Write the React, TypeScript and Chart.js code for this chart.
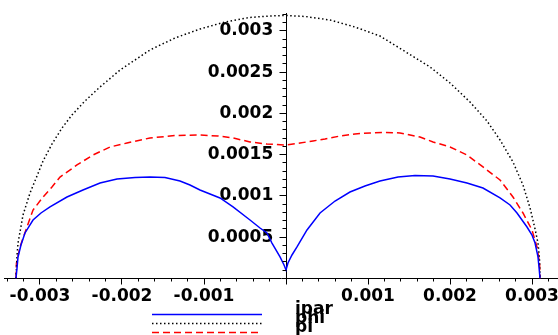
import React, { useEffect, useRef } from 'react';
import { Chart, registerables } from 'chart.js';

Chart.register(...registerables);

// All coordinates below are in units of 0.001 (axis labels show the real values).
const BLUE_X = [-3.293, -3.28, -3.268, -3.232, -3.183, -3.085, -2.988, -2.878, -2.671, -2.476, -2.268, -2.061, -1.841, -1.659, -1.476, -1.293, -1.171, -1.049, -0.805, -0.646, -0.439, -0.317, -0.232, -0.171, -0.073, -0.024, 0, 0.024, 0.073, 0.134, 0.256, 0.415, 0.598, 0.78, 0.963, 1.146, 1.366, 1.573, 1.793, 2.0, 2.207, 2.402, 2.61, 2.732, 2.817, 2.939, 3.0, 3.037, 3.073, 3.085, 3.098];
const BLUE_Y = [0, 0.127, 0.261, 0.406, 0.552, 0.709, 0.794, 0.867, 0.988, 1.073, 1.158, 1.206, 1.224, 1.23, 1.224, 1.182, 1.133, 1.073, 0.976, 0.867, 0.709, 0.612, 0.552, 0.43, 0.261, 0.164, 0.103, 0.188, 0.285, 0.382, 0.588, 0.794, 0.939, 1.048, 1.121, 1.182, 1.23, 1.248, 1.242, 1.206, 1.158, 1.097, 0.976, 0.891, 0.794, 0.624, 0.527, 0.43, 0.261, 0.139, 0];

const RED_X = [-3.293, -3.287, -3.244, -3.159, -3.085, -2.963, -2.854, -2.756, -2.549, -2.354, -2.146, -1.939, -1.659, -1.354, -1.049, -0.829, -0.646, -0.439, -0.232, 0, 0.171, 0.329, 0.476, 0.659, 0.841, 1.024, 1.207, 1.39, 1.634, 1.793, 2.0, 2.207, 2.402, 2.61, 2.768, 2.89, 3.0, 3.061, 3.092, 3.098];
const RED_Y = [0, 0.188, 0.382, 0.624, 0.83, 0.988, 1.109, 1.23, 1.376, 1.497, 1.594, 1.642, 1.703, 1.733, 1.739, 1.727, 1.703, 1.655, 1.63, 1.618, 1.642, 1.667, 1.691, 1.727, 1.752, 1.764, 1.77, 1.764, 1.715, 1.655, 1.594, 1.497, 1.352, 1.194, 0.988, 0.794, 0.588, 0.382, 0.188, 0];

const DOT_X = [-3.293, -3.28, -3.268, -3.207, -3.122, -3.037, -2.963, -2.854, -2.732, -2.61, -2.451, -2.268, -2.024, -1.659, -1.354, -1.049, -0.744, -0.439, -0.195, 0, 0.232, 0.537, 0.841, 1.146, 1.451, 1.756, 2.0, 2.244, 2.451, 2.61, 2.768, 2.89, 2.976, 3.037, 3.073, 3.091, 3.098];
const DOT_Y = [0, 0.285, 0.43, 0.77, 1.036, 1.242, 1.424, 1.63, 1.824, 1.982, 2.152, 2.321, 2.527, 2.77, 2.915, 3.024, 3.109, 3.164, 3.182, 3.188, 3.176, 3.133, 3.048, 2.939, 2.752, 2.564, 2.37, 2.139, 1.909, 1.679, 1.412, 1.133, 0.855, 0.6, 0.43, 0.248, 0];

const X_TICK_VALUES = [-3, -2, -1, 1, 2, 3];
const X_TICK_LABELS = ['-0.003', '-0.002', '-0.001', '0.001', '0.002', '0.003'];
const Y_TICK_VALUES = [0.5, 1, 1.5, 2, 2.5, 3];
const Y_TICK_LABELS = ['0.0005', '0.001', '0.0015', '0.002', '0.0025', '0.003'];
const X_MINOR_STEP = 0.2;
const Y_MINOR_STEP = 0.1;

const LEGEND_LABELS = ['ipar', 'phi', 'pi'];

const FONT = { family: '"DejaVu Sans", sans-serif', size: 17, weight: 'bold' as const };
// gap between the y tick labels and the y axis (Chart.js puts labels of an
// axis positioned at a value flush against it)
const Y_LABEL_GAP = '\u2002\u2005';

const zip = (xs: number[], ys: number[]) => xs.map((x, i) => ({ x, y: ys[i] }));

const axisMarks = {
  id: 'axisMarks',
  afterDraw(chart: any) {
    const { ctx, scales } = chart;
    const xs = scales.x;
    const ys = scales.y;
    const x0 = Math.round(xs.getPixelForValue(0) - 0.5) + 0.5;
    const y0 = Math.round(ys.getPixelForValue(0) - 0.5) + 0.5;
    ctx.save();
    ctx.strokeStyle = '#000';
    ctx.lineWidth = 1;
    ctx.beginPath();
    for (let k = -17; k <= 16; k++) {
      const px = Math.round(xs.getPixelForValue(k * X_MINOR_STEP) - 0.5) + 0.5;
      const len = k % 5 === 0 ? 6 : 3;
      ctx.moveTo(px, y0);
      ctx.lineTo(px, y0 + len);
    }
    for (let k = 1; k <= 32; k++) {
      const py = Math.round(ys.getPixelForValue(k * Y_MINOR_STEP) - 0.5) + 0.5;
      const len = k % 5 === 0 ? 7 : 4;
      ctx.moveTo(x0, py);
      ctx.lineTo(x0 - len, py);
    }
    ctx.stroke();
    ctx.restore();
  },
};

const legendPlugin = {
  id: 'mapleLegend',
  afterDraw(chart: any) {
    const { ctx } = chart;
    const rows = [314, 323, 332];
    ctx.save();
    chart.data.datasets.forEach((ds: any, i: number) => {
      const y = rows[i] + 0.5;
      ctx.beginPath();
      ctx.strokeStyle = ds.borderColor;
      ctx.lineWidth = ds.borderWidth;
      ctx.setLineDash(ds.borderDash || []);
      ctx.moveTo(152, y);
      ctx.lineTo(262, y);
      ctx.stroke();
    });
    ctx.setLineDash([]);
    ctx.fillStyle = '#000';
    ctx.font = `bold 17px "DejaVu Sans", sans-serif`;
    ctx.textBaseline = 'middle';
    ctx.textAlign = 'left';
    LEGEND_LABELS.forEach((t, i) => {
      ctx.fillText(t, 295, rows[i] - 4);
    });
    ctx.restore();
  },
};

export default function App() {
  const ref = useRef<HTMLCanvasElement | null>(null);
  useEffect(() => {
    if (!ref.current) return;
    const chart = new Chart(ref.current, {
      type: 'scatter',
      data: {
        datasets: [
          {
            label: LEGEND_LABELS[0],
            data: zip(BLUE_X, BLUE_Y),
            showLine: true,
            borderColor: '#0000ff',
            borderWidth: 1.5,
            pointRadius: 0,
            tension: 0,
          },
          {
            label: LEGEND_LABELS[1],
            data: zip(DOT_X, DOT_Y),
            showLine: true,
            borderColor: '#000000',
            borderWidth: 1.5,
            borderDash: [1.5, 2.5],
            pointRadius: 0,
            tension: 0,
          },
          {
            label: LEGEND_LABELS[2],
            data: zip(RED_X, RED_Y),
            showLine: true,
            borderColor: '#ff0000',
            borderWidth: 1.5,
            borderDash: [7, 4],
            pointRadius: 0,
            tension: 0,
          },
        ],
      },
      options: {
        animation: false,
        responsive: false,
        layout: { padding: { left: 4, right: 0, top: 13, bottom: 56.5 } },
        plugins: { legend: { display: false }, tooltip: { enabled: false } },
        scales: {
          x: {
            type: 'linear',
            position: { y: 0 },
            min: -3.439,
            max: 3.317,
            grid: { display: false, drawTicks: false },
            border: { display: true, color: '#000', width: 1 },
            afterBuildTicks: (scale: any) => {
              scale.ticks = X_TICK_VALUES.map((v) => ({ value: v }));
            },
            afterFit: (scale: any) => {
              scale.paddingLeft = 0;
              scale.paddingRight = 0;
              scale.paddingTop = 0;
              scale.paddingBottom = 0;
            },
            ticks: {
              autoSkip: false,
              maxRotation: 0,
              padding: 8,
              color: '#000',
              font: FONT,
              callback: (value: any) => {
                const i = X_TICK_VALUES.indexOf(Number(value));
                return i >= 0 ? X_TICK_LABELS[i] : '';
              },
            },
          },
          y: {
            type: 'linear',
            position: { x: 0 },
            min: 0,
            max: 3.218,
            grid: { display: false, drawTicks: false },
            border: { display: true, color: '#000', width: 1 },
            afterBuildTicks: (scale: any) => {
              scale.ticks = Y_TICK_VALUES.map((v) => ({ value: v }));
            },
            afterFit: (scale: any) => {
              scale.paddingLeft = 0;
              scale.paddingRight = 0;
              scale.paddingTop = 0;
              scale.paddingBottom = 0;
            },
            ticks: {
              autoSkip: false,
              padding: 0,
              color: '#000',
              font: FONT,
              callback: (value: any) => {
                const i = Y_TICK_VALUES.indexOf(Number(value));
                return i >= 0 ? Y_TICK_LABELS[i] + Y_LABEL_GAP : '';
              },
            },
          },
        },
      } as any,
      plugins: [axisMarks, legendPlugin],
    });
    return () => chart.destroy();
  }, []);

  return (
    <div style={{ position: 'absolute', left: 0, top: 0, width: 558, height: 335, background: '#fff' }}>
      <canvas ref={ref} width={558} height={335} />
    </div>
  );
}
